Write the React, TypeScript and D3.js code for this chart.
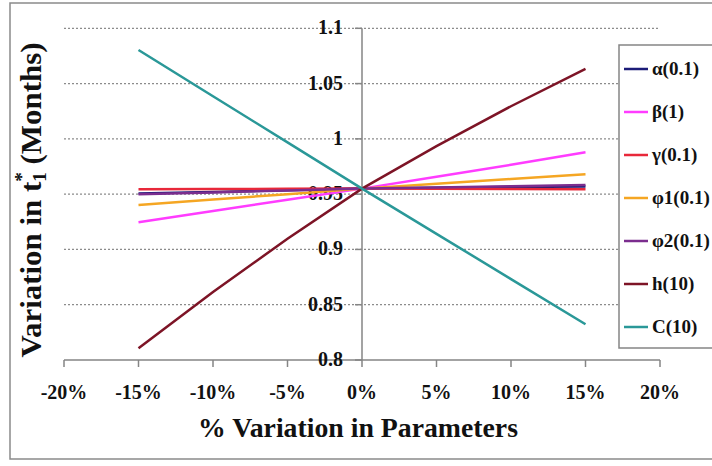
import React from "react";
import * as d3 from "d3";

const xValues = [-0.15, -0.1, -0.05, 0, 0.05, 0.1, 0.15];
const xTicks = [-0.2, -0.15, -0.1, -0.05, 0, 0.05, 0.1, 0.15, 0.2];
const xTickLabels = ["-20%", "-15%", "-10%", "-5%", "0%", "5%", "10%", "15%", "20%"];
const yTicks = [0.8, 0.85, 0.9, 0.95, 1, 1.05, 1.1];
const yTickLabels = ["0.8", "0.85", "0.9", "0.95", "1", "1.05", "1.1"];
const seriesNames = ["α(0.1)", "β(1)", "γ(0.1)", "φ1(0.1)", "φ2(0.1)", "h(10)", "C(10)"];
const seriesColors = ["#1c1c78", "#ff3cff", "#e8283a", "#f5a623", "#7b2d8e", "#7d1426", "#2a9898"];
const alphaVals = [0.9505, 0.952, 0.9535, 0.955, 0.9558, 0.9565, 0.957];
const betaVals = [0.9245, 0.9347, 0.9449, 0.955, 0.9657, 0.9766, 0.9879];
const gammaVals = [0.9545, 0.9547, 0.9548, 0.955, 0.9548, 0.9546, 0.9544];
const phi1Vals = [0.9402, 0.9451, 0.95, 0.955, 0.9593, 0.9637, 0.968];
const phi2Vals = [0.9499, 0.9516, 0.9533, 0.955, 0.9561, 0.9572, 0.9583];
const hVals = [0.8106, 0.8616, 0.9096, 0.955, 0.9935, 1.0295, 1.0632];
const cVals = [1.0804, 1.0386, 0.9968, 0.955, 0.9141, 0.8732, 0.8323];
const seriesValues = [alphaVals, betaVals, gammaVals, phi1Vals, phi2Vals, hVals, cVals];

export default function App() {
  const x = d3.scaleLinear().domain([-0.2, 0.2]).range([64, 660]);
  const y = d3.scaleLinear().domain([0.8, 1.1]).range([360, 28.3]);
  const line = d3
    .line<[number, number]>()
    .x((d) => x(d[0]))
    .y((d) => y(d[1]));
  const font = "'Liberation Serif', 'Times New Roman', serif";
  const axisColor = "#858585";
  const x0 = x(0);
  return (
    <svg
      width={712}
      height={466}
      style={{ position: "absolute", left: 0, top: 0, background: "#fff" }}
      fontFamily={font}
      fontWeight="bold"
    >
      <rect x={0} y={0} width={712} height={466} fill="#fff" />
      <rect x={10} y={3} width={720} height={456} fill="#fff" stroke="#8a8a8a" strokeWidth={1.5} />
      {yTicks.slice(1).map((t) => (
        <line
          key={"g" + t}
          x1={x(-0.2)}
          x2={x(0.2)}
          y1={y(t)}
          y2={y(t)}
          stroke="#8c8c8c"
          strokeWidth={1.2}
          strokeDasharray="2,2"
        />
      ))}
      <line x1={x(-0.2)} x2={x(0.2)} y1={y(0.8)} y2={y(0.8)} stroke={axisColor} strokeWidth={1.5} />
      {xTicks.map((t) => (
        <line key={"xt" + t} x1={x(t)} x2={x(t)} y1={y(0.8)} y2={y(0.8) + 7} stroke={axisColor} strokeWidth={1.5} />
      ))}
      {xTicks.map((t, i) => (
        <text key={"xl" + t} x={x(t)} y={399} textAnchor="middle" fontSize={20} fill="#111">
          {xTickLabels[i]}
        </text>
      ))}
      <line x1={x0} x2={x0} y1={y(1.1)} y2={y(0.8)} stroke={axisColor} strokeWidth={1.5} />
      {yTicks.map((t) => (
        <line key={"yt" + t} x1={x0 - 7} x2={x0} y1={y(t)} y2={y(t)} stroke={axisColor} strokeWidth={1.5} />
      ))}
      {yTicks.map((t, i) => (
        <text key={"yl" + t} x={x0 - 19} y={y(t) + 6} textAnchor="end" fontSize={20} fill="#111">
          {yTickLabels[i]}
        </text>
      ))}
      {seriesValues.map((vals, i) => (
        <path
          key={"s" + i}
          d={line(vals.map((v, j) => [xValues[j], v] as [number, number])) || ""}
          fill="none"
          stroke={seriesColors[i]}
          strokeWidth={2.5}
        />
      ))}
      <rect x={619} y={45} width={110} height={303} fill="#fff" stroke="#858585" strokeWidth={1.5} />
      {seriesNames.map((n, i) => (
        <g key={"lg" + i}>
          <line x1={624} x2={648} y1={69 + i * 43} y2={69 + i * 43} stroke={seriesColors[i]} strokeWidth={2.5} />
          <text x={652} y={69 + i * 43 + 6} fontSize={19} fill="#111">
            {n}
          </text>
        </g>
      ))}
      <text x={358} y={437} textAnchor="middle" fontSize={27} fill="#111" textLength={320} lengthAdjust="spacingAndGlyphs">
        % Variation in Parameters
      </text>
      <text
        transform="translate(41,200) rotate(-90)"
        textAnchor="middle"
        fontSize={29}
        fill="#111"
        textLength={315}
        lengthAdjust="spacingAndGlyphs"
      >
        Variation in t
        <tspan fontSize={18} dy={5}>1</tspan>
        <tspan fontSize={18} dy={-18} dx={-9}>*</tspan>
        <tspan dy={13}> (Months)</tspan>
      </text>
    </svg>
  );
}
